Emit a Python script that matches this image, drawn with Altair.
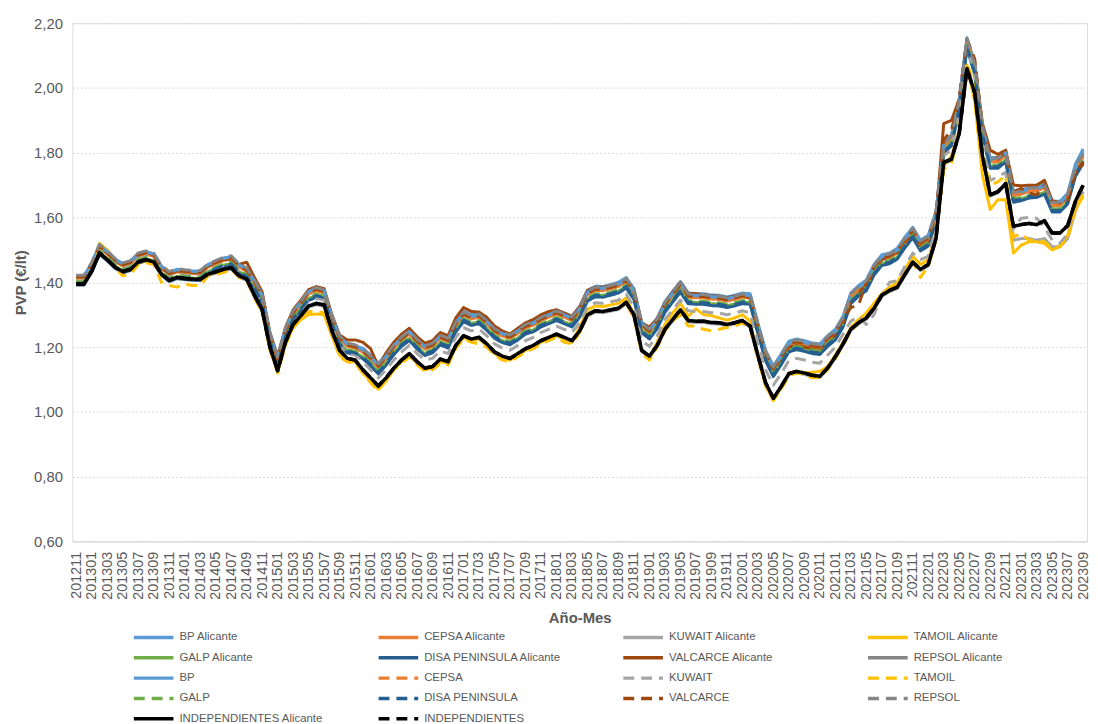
import altair as alt
import pandas as pd

# ---- categories (year-month labels, 201211 .. 202309) ----
meses = []
_y, _m = 2012, 11
for _ in range(131):
    meses.append(f"{_y}{_m:02d}")
    _m += 1
    if _m > 12:
        _m = 1
        _y += 1
etiquetas_x = meses[::2]
ticks_y = [0.6, 0.8, 1.0, 1.2, 1.4, 1.6, 1.8, 2.0, 2.2]

# ---- series values (€/lt) ----
independientes_alicante = [
1.395,1.395,1.435,1.490,1.470,1.447,1.433,1.440,1.463,1.470,
1.463,1.425,1.406,1.415,1.412,1.410,1.409,1.425,1.432,1.440,
1.445,1.420,1.410,1.360,1.315,1.200,1.127,1.215,1.270,1.297,
1.327,1.335,1.330,1.250,1.190,1.165,1.160,1.130,1.105,1.080,
1.105,1.135,1.160,1.180,1.155,1.135,1.140,1.163,1.155,1.205,
1.235,1.225,1.230,1.210,1.185,1.172,1.165,1.180,1.195,1.205,
1.220,1.230,1.240,1.230,1.220,1.250,1.300,1.312,1.310,1.315,
1.320,1.338,1.300,1.190,1.172,1.205,1.255,1.285,1.315,1.282,
1.280,1.280,1.276,1.275,1.270,1.275,1.282,1.265,1.175,1.090,
1.042,1.078,1.118,1.125,1.120,1.113,1.110,1.135,1.170,1.210,
1.255,1.275,1.290,1.320,1.360,1.375,1.385,1.425,1.462,1.440,
1.455,1.535,1.770,1.780,1.860,2.060,1.985,1.790,1.670,1.680,
1.705,1.573,1.578,1.582,1.578,1.590,1.552,1.552,1.575,1.650,1.700]
independientes = list(independientes_alicante)

bp_alicante = [
1.418,1.418,1.458,1.513,1.493,1.470,1.456,1.463,1.486,1.493,
1.486,1.448,1.429,1.438,1.435,1.433,1.432,1.453,1.463,1.473,
1.478,1.453,1.440,1.403,1.358,1.240,1.165,1.253,1.308,1.338,
1.370,1.380,1.373,1.293,1.230,1.208,1.203,1.197,1.175,1.150,
1.177,1.210,1.235,1.253,1.227,1.207,1.215,1.240,1.230,1.280,
1.311,1.300,1.305,1.285,1.260,1.247,1.240,1.255,1.273,1.280,
1.295,1.305,1.315,1.305,1.295,1.325,1.375,1.388,1.387,1.393,
1.400,1.415,1.380,1.277,1.258,1.290,1.340,1.372,1.402,1.367,
1.365,1.365,1.361,1.360,1.355,1.360,1.367,1.365,1.275,1.190,
1.142,1.178,1.218,1.225,1.220,1.213,1.210,1.235,1.255,1.295,
1.367,1.390,1.407,1.455,1.485,1.490,1.505,1.540,1.570,1.530,
1.545,1.620,1.830,1.855,1.965,2.155,2.075,1.885,1.785,1.785,
1.805,1.680,1.685,1.693,1.695,1.705,1.650,1.650,1.675,1.765,1.812]

cepsa_alicante = [
1.412,1.412,1.452,1.507,1.487,1.464,1.450,1.457,1.480,1.487,
1.480,1.442,1.423,1.432,1.429,1.427,1.426,1.447,1.457,1.467,
1.472,1.447,1.434,1.397,1.352,1.234,1.159,1.247,1.302,1.332,
1.364,1.374,1.367,1.287,1.224,1.202,1.197,1.184,1.162,1.137,
1.164,1.197,1.222,1.240,1.214,1.194,1.202,1.227,1.217,1.267,
1.298,1.287,1.292,1.272,1.247,1.234,1.227,1.242,1.260,1.267,
1.282,1.292,1.302,1.292,1.282,1.312,1.362,1.375,1.374,1.380,
1.387,1.402,1.367,1.264,1.245,1.277,1.327,1.359,1.389,1.354,
1.352,1.352,1.348,1.347,1.342,1.347,1.354,1.352,1.262,1.177,
1.129,1.165,1.205,1.212,1.207,1.200,1.197,1.222,1.242,1.282,
1.354,1.377,1.394,1.442,1.472,1.477,1.492,1.527,1.557,1.517,
1.532,1.607,1.817,1.842,1.952,2.142,2.062,1.872,1.772,1.772,
1.792,1.667,1.672,1.680,1.682,1.692,1.637,1.637,1.662,1.747,1.787]

kuwait_alicante = [
1.391,1.391,1.431,1.486,1.466,1.443,1.429,1.436,1.459,1.466,
1.459,1.421,1.402,1.411,1.408,1.406,1.405,1.421,1.428,1.436,
1.441,1.416,1.406,1.356,1.311,1.196,1.123,1.211,1.266,1.293,
1.323,1.331,1.326,1.246,1.186,1.161,1.156,1.126,1.101,1.076,
1.101,1.131,1.156,1.176,1.151,1.131,1.136,1.159,1.151,1.201,
1.231,1.221,1.226,1.206,1.181,1.168,1.161,1.176,1.191,1.201,
1.216,1.226,1.236,1.226,1.216,1.246,1.296,1.308,1.306,1.311,
1.316,1.334,1.296,1.186,1.168,1.201,1.251,1.281,1.311,1.278,
1.276,1.276,1.272,1.271,1.266,1.271,1.278,1.261,1.171,1.086,
1.038,1.074,1.114,1.121,1.116,1.109,1.106,1.131,1.166,1.206,
1.251,1.271,1.286,1.316,1.356,1.371,1.381,1.421,1.458,1.436,
1.451,1.531,1.766,1.776,1.856,2.056,1.981,1.786,1.666,1.676,
1.701,1.530,1.535,1.535,1.530,1.535,1.510,1.510,1.535,1.620,1.680]

tamoil_alicante = [
1.405,1.415,1.450,1.520,1.500,1.470,1.450,1.445,1.460,1.465,
1.460,1.425,1.410,1.415,1.410,1.410,1.410,1.425,1.430,1.440,
1.445,1.420,1.410,1.355,1.310,1.195,1.125,1.210,1.260,1.285,
1.300,1.302,1.300,1.235,1.175,1.155,1.155,1.120,1.095,1.070,
1.095,1.130,1.155,1.175,1.150,1.130,1.135,1.155,1.150,1.200,
1.230,1.220,1.225,1.205,1.180,1.165,1.160,1.175,1.190,1.200,
1.215,1.225,1.235,1.225,1.215,1.262,1.315,1.327,1.325,1.330,
1.335,1.352,1.300,1.190,1.165,1.215,1.270,1.305,1.335,1.295,
1.318,1.300,1.297,1.290,1.283,1.290,1.300,1.280,1.170,1.080,
1.035,1.075,1.120,1.125,1.120,1.122,1.125,1.140,1.175,1.215,
1.260,1.285,1.305,1.335,1.365,1.385,1.400,1.440,1.480,1.455,
1.470,1.550,1.760,1.790,1.870,2.070,1.960,1.730,1.625,1.655,
1.655,1.490,1.515,1.525,1.525,1.520,1.500,1.510,1.545,1.625,1.665]

galp_alicante = [
1.398,1.398,1.438,1.493,1.473,1.450,1.436,1.443,1.466,1.473,
1.466,1.428,1.409,1.418,1.415,1.413,1.412,1.433,1.443,1.453,
1.458,1.433,1.420,1.383,1.338,1.220,1.145,1.233,1.288,1.318,
1.350,1.360,1.353,1.273,1.210,1.188,1.183,1.170,1.148,1.123,
1.150,1.183,1.208,1.226,1.200,1.180,1.188,1.213,1.203,1.253,
1.284,1.273,1.278,1.258,1.233,1.220,1.213,1.228,1.246,1.253,
1.268,1.278,1.288,1.278,1.268,1.298,1.348,1.361,1.360,1.366,
1.373,1.388,1.353,1.250,1.231,1.263,1.313,1.345,1.375,1.340,
1.338,1.338,1.334,1.333,1.328,1.333,1.340,1.338,1.248,1.163,
1.115,1.151,1.191,1.198,1.193,1.186,1.183,1.208,1.228,1.268,
1.340,1.363,1.380,1.428,1.458,1.463,1.478,1.513,1.543,1.503,
1.518,1.593,1.803,1.828,1.938,2.128,2.048,1.858,1.758,1.758,
1.778,1.653,1.658,1.666,1.668,1.678,1.623,1.623,1.648,1.733,1.773]

disa_alicante = [
1.392,1.392,1.432,1.487,1.467,1.444,1.430,1.437,1.460,1.467,
1.460,1.422,1.403,1.412,1.409,1.407,1.406,1.427,1.437,1.447,
1.452,1.427,1.414,1.377,1.332,1.214,1.139,1.227,1.282,1.312,
1.344,1.354,1.347,1.267,1.204,1.182,1.177,1.164,1.142,1.117,
1.144,1.177,1.202,1.220,1.194,1.174,1.182,1.207,1.197,1.247,
1.278,1.267,1.272,1.252,1.227,1.214,1.207,1.222,1.240,1.247,
1.262,1.272,1.282,1.272,1.262,1.292,1.342,1.355,1.354,1.360,
1.367,1.382,1.347,1.244,1.225,1.257,1.307,1.339,1.369,1.334,
1.332,1.332,1.328,1.327,1.322,1.327,1.334,1.332,1.242,1.157,
1.109,1.145,1.185,1.192,1.187,1.180,1.177,1.202,1.222,1.262,
1.334,1.357,1.374,1.422,1.452,1.457,1.472,1.507,1.537,1.497,
1.512,1.587,1.797,1.822,1.932,2.122,2.042,1.852,1.752,1.752,
1.772,1.647,1.652,1.660,1.662,1.672,1.617,1.617,1.642,1.727,1.767]

valcarce_alicante = [
1.415,1.415,1.455,1.510,1.490,1.467,1.453,1.465,1.490,1.495,
1.483,1.445,1.426,1.435,1.432,1.430,1.429,1.450,1.460,1.470,
1.470,1.455,1.462,1.415,1.370,1.245,1.172,1.260,1.315,1.345,
1.377,1.387,1.380,1.300,1.237,1.222,1.222,1.215,1.195,1.140,
1.182,1.215,1.240,1.258,1.232,1.212,1.220,1.245,1.235,1.290,
1.322,1.310,1.308,1.292,1.265,1.250,1.240,1.258,1.275,1.285,
1.300,1.310,1.315,1.305,1.295,1.325,1.375,1.385,1.385,1.390,
1.395,1.405,1.378,1.274,1.262,1.287,1.337,1.370,1.400,1.366,
1.365,1.362,1.358,1.357,1.352,1.357,1.362,1.350,1.262,1.180,
1.130,1.165,1.200,1.205,1.200,1.195,1.195,1.215,1.238,1.275,
1.345,1.370,1.388,1.438,1.470,1.478,1.492,1.522,1.550,1.512,
1.528,1.600,1.890,1.900,1.965,2.150,2.075,1.890,1.808,1.795,
1.808,1.700,1.698,1.700,1.700,1.715,1.652,1.645,1.660,1.740,1.765]

repsol_alicante = [
1.418,1.418,1.458,1.513,1.493,1.470,1.456,1.463,1.486,1.493,
1.486,1.448,1.429,1.438,1.435,1.433,1.432,1.453,1.463,1.473,
1.478,1.453,1.440,1.403,1.358,1.240,1.165,1.253,1.308,1.338,
1.370,1.380,1.373,1.293,1.230,1.208,1.203,1.190,1.168,1.143,
1.170,1.203,1.228,1.246,1.220,1.200,1.208,1.233,1.223,1.273,
1.304,1.293,1.298,1.278,1.253,1.240,1.233,1.248,1.266,1.273,
1.288,1.298,1.308,1.298,1.288,1.318,1.368,1.381,1.380,1.386,
1.393,1.408,1.373,1.270,1.251,1.283,1.333,1.365,1.395,1.360,
1.358,1.358,1.354,1.353,1.348,1.353,1.360,1.358,1.268,1.183,
1.135,1.171,1.211,1.218,1.213,1.206,1.203,1.228,1.248,1.288,
1.360,1.383,1.400,1.448,1.478,1.483,1.498,1.533,1.563,1.523,
1.538,1.613,1.823,1.848,1.958,2.148,2.068,1.878,1.778,1.778,
1.798,1.673,1.678,1.686,1.688,1.698,1.643,1.643,1.668,1.753,1.793]

bp = [
1.420,1.420,1.460,1.515,1.495,1.472,1.458,1.465,1.488,1.495,
1.488,1.450,1.431,1.440,1.437,1.435,1.434,1.455,1.465,1.475,
1.480,1.455,1.442,1.405,1.360,1.242,1.167,1.255,1.310,1.340,
1.372,1.382,1.375,1.295,1.232,1.210,1.205,1.192,1.170,1.145,
1.172,1.205,1.230,1.248,1.222,1.202,1.210,1.235,1.225,1.275,
1.306,1.295,1.300,1.280,1.255,1.242,1.235,1.250,1.268,1.275,
1.290,1.300,1.310,1.300,1.290,1.320,1.370,1.383,1.382,1.388,
1.395,1.410,1.375,1.272,1.253,1.285,1.335,1.367,1.397,1.362,
1.360,1.360,1.356,1.355,1.350,1.355,1.362,1.360,1.270,1.185,
1.137,1.173,1.213,1.220,1.215,1.208,1.205,1.230,1.250,1.290,
1.362,1.385,1.402,1.450,1.480,1.485,1.500,1.535,1.565,1.525,
1.540,1.615,1.825,1.850,1.960,2.150,2.070,1.880,1.780,1.780,
1.800,1.675,1.680,1.688,1.690,1.700,1.645,1.645,1.670,1.755,1.805]

cepsa = [
1.414,1.414,1.454,1.509,1.489,1.466,1.452,1.459,1.482,1.489,
1.482,1.444,1.425,1.434,1.431,1.429,1.428,1.449,1.459,1.469,
1.474,1.449,1.436,1.399,1.354,1.236,1.161,1.249,1.304,1.334,
1.366,1.376,1.369,1.289,1.226,1.204,1.199,1.186,1.164,1.139,
1.166,1.199,1.224,1.242,1.216,1.196,1.204,1.229,1.219,1.269,
1.300,1.289,1.294,1.274,1.249,1.236,1.229,1.244,1.262,1.269,
1.284,1.294,1.304,1.294,1.284,1.314,1.364,1.377,1.376,1.382,
1.389,1.404,1.369,1.266,1.247,1.279,1.329,1.361,1.391,1.356,
1.354,1.354,1.350,1.349,1.344,1.349,1.356,1.354,1.264,1.179,
1.131,1.167,1.207,1.214,1.209,1.202,1.199,1.224,1.244,1.284,
1.356,1.379,1.396,1.444,1.474,1.479,1.494,1.529,1.559,1.519,
1.534,1.609,1.819,1.844,1.954,2.144,2.064,1.874,1.774,1.774,
1.794,1.669,1.674,1.682,1.684,1.694,1.639,1.639,1.664,1.749,1.789]

kuwait = [
1.405,1.405,1.445,1.500,1.480,1.457,1.443,1.450,1.473,1.480,
1.473,1.435,1.416,1.425,1.422,1.420,1.419,1.435,1.442,1.450,
1.455,1.430,1.420,1.375,1.330,1.215,1.142,1.230,1.285,1.312,
1.342,1.350,1.345,1.265,1.205,1.180,1.175,1.155,1.130,1.105,
1.130,1.160,1.185,1.205,1.180,1.160,1.165,1.188,1.180,1.230,
1.260,1.250,1.255,1.235,1.210,1.197,1.190,1.205,1.220,1.230,
1.245,1.255,1.265,1.255,1.245,1.275,1.325,1.337,1.335,1.340,
1.345,1.363,1.325,1.220,1.202,1.235,1.285,1.315,1.345,1.312,
1.310,1.310,1.306,1.305,1.300,1.305,1.312,1.305,1.215,1.130,
1.082,1.118,1.158,1.165,1.160,1.153,1.150,1.175,1.200,1.240,
1.280,1.295,1.270,1.300,1.360,1.400,1.405,1.450,1.490,1.470,
1.480,1.570,1.790,1.810,1.930,2.130,2.040,1.830,1.715,1.725,
1.740,1.565,1.598,1.600,1.598,1.570,1.530,1.520,1.550,1.640,1.700]

tamoil = [
1.400,1.400,1.440,1.500,1.475,1.445,1.420,1.425,1.455,1.460,
1.455,1.400,1.390,1.385,1.395,1.390,1.390,1.420,1.425,1.430,
1.440,1.415,1.405,1.350,1.310,1.190,1.120,1.205,1.260,1.290,
1.310,1.310,1.305,1.240,1.170,1.155,1.150,1.120,1.090,1.065,
1.100,1.130,1.150,1.170,1.145,1.125,1.130,1.150,1.145,1.195,
1.225,1.215,1.210,1.200,1.175,1.160,1.155,1.170,1.185,1.195,
1.210,1.220,1.230,1.215,1.210,1.245,1.300,1.310,1.310,1.315,
1.320,1.335,1.290,1.180,1.160,1.200,1.250,1.280,1.300,1.265,
1.265,1.255,1.250,1.255,1.260,1.265,1.275,1.255,1.165,1.080,
1.035,1.070,1.110,1.120,1.115,1.105,1.105,1.130,1.165,1.205,
1.250,1.275,1.290,1.320,1.360,1.375,1.390,1.430,1.465,1.415,
1.450,1.530,1.750,1.765,1.870,2.080,2.000,1.790,1.700,1.710,
1.730,1.540,1.550,1.530,1.530,1.525,1.505,1.510,1.535,1.630,1.670]

galp = [
1.402,1.402,1.442,1.497,1.477,1.454,1.440,1.447,1.470,1.477,
1.470,1.432,1.413,1.422,1.419,1.417,1.416,1.437,1.447,1.457,
1.462,1.437,1.424,1.387,1.342,1.224,1.149,1.237,1.292,1.322,
1.354,1.364,1.357,1.277,1.214,1.192,1.187,1.174,1.152,1.127,
1.154,1.187,1.212,1.230,1.204,1.184,1.192,1.217,1.207,1.257,
1.288,1.277,1.282,1.262,1.237,1.224,1.217,1.232,1.250,1.257,
1.272,1.282,1.292,1.282,1.272,1.302,1.352,1.365,1.364,1.370,
1.377,1.392,1.357,1.254,1.235,1.267,1.317,1.349,1.379,1.344,
1.342,1.342,1.338,1.337,1.332,1.337,1.344,1.342,1.252,1.167,
1.119,1.155,1.195,1.202,1.197,1.190,1.187,1.212,1.232,1.272,
1.344,1.367,1.384,1.432,1.462,1.467,1.482,1.517,1.547,1.507,
1.522,1.597,1.807,1.832,1.942,2.132,2.052,1.862,1.762,1.762,
1.782,1.657,1.662,1.670,1.672,1.682,1.627,1.627,1.652,1.737,1.777]

disa = [
1.397,1.397,1.437,1.492,1.472,1.449,1.435,1.442,1.465,1.472,
1.465,1.427,1.408,1.417,1.414,1.412,1.411,1.432,1.442,1.452,
1.457,1.432,1.419,1.382,1.337,1.219,1.144,1.232,1.287,1.317,
1.349,1.359,1.352,1.272,1.209,1.187,1.182,1.169,1.147,1.122,
1.149,1.182,1.207,1.225,1.199,1.179,1.187,1.212,1.202,1.252,
1.283,1.272,1.277,1.257,1.232,1.219,1.212,1.227,1.245,1.252,
1.267,1.277,1.287,1.277,1.267,1.297,1.347,1.360,1.359,1.365,
1.372,1.387,1.352,1.249,1.230,1.262,1.312,1.344,1.374,1.339,
1.337,1.337,1.333,1.332,1.327,1.332,1.339,1.337,1.247,1.162,
1.114,1.150,1.190,1.197,1.192,1.185,1.182,1.207,1.227,1.267,
1.339,1.362,1.379,1.427,1.457,1.462,1.477,1.512,1.542,1.502,
1.517,1.592,1.802,1.827,1.937,2.127,2.047,1.857,1.757,1.757,
1.777,1.652,1.657,1.665,1.667,1.677,1.622,1.622,1.647,1.732,1.772]

valcarce = [
1.416,1.416,1.456,1.511,1.491,1.468,1.454,1.461,1.484,1.491,
1.484,1.446,1.427,1.436,1.433,1.431,1.430,1.451,1.461,1.471,
1.476,1.451,1.438,1.401,1.356,1.238,1.163,1.251,1.306,1.336,
1.368,1.378,1.371,1.291,1.228,1.206,1.201,1.188,1.166,1.141,
1.168,1.201,1.226,1.244,1.218,1.198,1.206,1.231,1.221,1.271,
1.302,1.291,1.296,1.276,1.251,1.238,1.231,1.246,1.264,1.271,
1.286,1.296,1.306,1.296,1.286,1.316,1.366,1.379,1.378,1.384,
1.391,1.406,1.371,1.268,1.249,1.281,1.331,1.363,1.393,1.358,
1.356,1.356,1.352,1.351,1.346,1.351,1.358,1.356,1.266,1.181,
1.133,1.169,1.209,1.216,1.211,1.204,1.201,1.226,1.246,1.286,
1.322,1.330,1.398,1.446,1.476,1.481,1.496,1.531,1.561,1.521,
1.536,1.611,1.840,1.870,1.970,2.150,2.090,1.880,1.800,1.780,
1.800,1.680,1.690,1.676,1.670,1.700,1.650,1.645,1.650,1.740,1.770]

repsol = [
1.422,1.422,1.462,1.517,1.497,1.474,1.460,1.467,1.490,1.497,
1.490,1.452,1.433,1.442,1.439,1.437,1.436,1.457,1.467,1.477,
1.482,1.457,1.444,1.407,1.362,1.244,1.169,1.257,1.312,1.342,
1.374,1.384,1.377,1.297,1.234,1.212,1.207,1.194,1.172,1.147,
1.174,1.207,1.232,1.250,1.224,1.204,1.212,1.237,1.227,1.277,
1.308,1.297,1.302,1.282,1.257,1.244,1.237,1.252,1.270,1.277,
1.292,1.302,1.312,1.302,1.292,1.322,1.372,1.385,1.384,1.390,
1.397,1.412,1.377,1.274,1.255,1.287,1.337,1.369,1.399,1.364,
1.362,1.362,1.358,1.357,1.352,1.357,1.364,1.362,1.272,1.187,
1.139,1.175,1.215,1.222,1.217,1.210,1.207,1.232,1.252,1.292,
1.364,1.387,1.404,1.452,1.482,1.487,1.502,1.537,1.567,1.527,
1.542,1.617,1.827,1.852,1.962,2.152,2.072,1.882,1.782,1.782,
1.802,1.677,1.682,1.690,1.692,1.702,1.647,1.647,1.672,1.757,1.797]

# ---- series order (legend / drawing order), colours and dash styles ----
nombres = [
    "BP Alicante", "CEPSA Alicante", "KUWAIT Alicante", "TAMOIL Alicante",
    "GALP Alicante", "DISA PENINSULA Alicante", "VALCARCE Alicante", "REPSOL Alicante",
    "BP", "CEPSA", "KUWAIT", "TAMOIL",
    "GALP", "DISA PENINSULA", "VALCARCE", "REPSOL",
    "INDEPENDIENTES Alicante", "INDEPENDIENTES",
]
valores = [
    bp_alicante, cepsa_alicante, kuwait_alicante, tamoil_alicante,
    galp_alicante, disa_alicante, valcarce_alicante, repsol_alicante,
    bp, cepsa, kuwait, tamoil,
    galp, disa, valcarce, repsol,
    independientes_alicante, independientes,
]
colores = [
    "#5B9BD5", "#ED7D31", "#A5A5A5", "#FFC000",
    "#70AD47", "#255E91", "#9E480E", "#858585",
    "#5B9BD5", "#ED7D31", "#A5A5A5", "#FFC000",
    "#70AD47", "#255E91", "#9E480E", "#858585",
    "#000000", "#000000",
]
SOLID = [1, 0]
DASH = [11, 7]
trazos = [
    SOLID, SOLID, SOLID, SOLID,
    SOLID, SOLID, SOLID, SOLID,
    SOLID, DASH, DASH, DASH,
    DASH, DASH, DASH, DASH,
    SOLID, DASH,
]

rows = []
for n, vals in zip(nombres, valores):
    for mes, v in zip(meses, vals):
        rows.append({"mes": mes, "serie": n, "valor": v})
df = pd.DataFrame(rows)

FONT = "Liberation Sans"
GRAY = "#595959"

leyenda = alt.Legend(
    title=None, orient="none", legendX=60, legendY=613, columns=4,
    direction="horizontal", clipHeight=14,
    symbolType="stroke", symbolSize=1600, symbolStrokeWidth=3.5,
    labelFont=FONT, labelFontSize=11.5, labelColor=GRAY, labelLimit=300,
    labelOffset=4, columnPadding=53, rowPadding=6.5, gridAlign="all", padding=0,
)

x_enc = alt.X(
    "mes:O", sort=meses,
    scale=alt.Scale(type="point", padding=0.5),
    axis=alt.Axis(
        values=etiquetas_x, labelAngle=270, labelFont=FONT, labelFontSize=14.5,
        labelColor=GRAY, labelPadding=10, ticks=False, grid=False,
        domainColor="#D9D9D9", domainWidth=1, labelOverlap=False,
        title="Año-Mes", titleFont=FONT, titleFontSize=15, titleColor=GRAY,
        titleFontWeight="bold", titlePadding=11,
    ),
)
y_enc = alt.Y(
    "valor:Q",
    scale=alt.Scale(domain=[0.6, 2.2], nice=False, zero=False),
    axis=alt.Axis(
        values=ticks_y, labelExpr="replace(format(datum.value, '.2f'), '.', ',')",
        labelFont=FONT, labelFontSize=15, labelColor=GRAY, labelPadding=10,
        ticks=False, domain=False, grid=True, gridColor="#D9D9D9",
        gridDash=[2, 2], gridWidth=1,
        title="PVP (€/lt)", titleFont=FONT, titleFontSize=15, titleColor=GRAY,
        titleFontWeight="bold", titlePadding=5,
    ),
)
color_enc = alt.Color("serie:N", scale=alt.Scale(domain=nombres, range=colores), legend=leyenda)
dash_enc = alt.StrokeDash("serie:N", scale=alt.Scale(domain=nombres, range=trazos), legend=leyenda)

capas = []
for n in nombres:
    w = 3.5 if n.startswith("INDEPENDIENTES") else 3
    capas.append(
        alt.Chart(df)
        .transform_filter(alt.datum.serie == n)
        .mark_line(strokeWidth=w, strokeJoin="round")
        .encode(x=x_enc, y=y_enc, color=color_enc, strokeDash=dash_enc)
    )

chart = (
    alt.layer(*capas)
    .properties(width=1024, height=523,
                padding={"left": 5, "top": 5, "right": 0, "bottom": 0})
    .configure_view(stroke=None)
    .configure(background="white")
)

chart.save("out.html", embed_options={"renderer": "svg", "actions": False})
